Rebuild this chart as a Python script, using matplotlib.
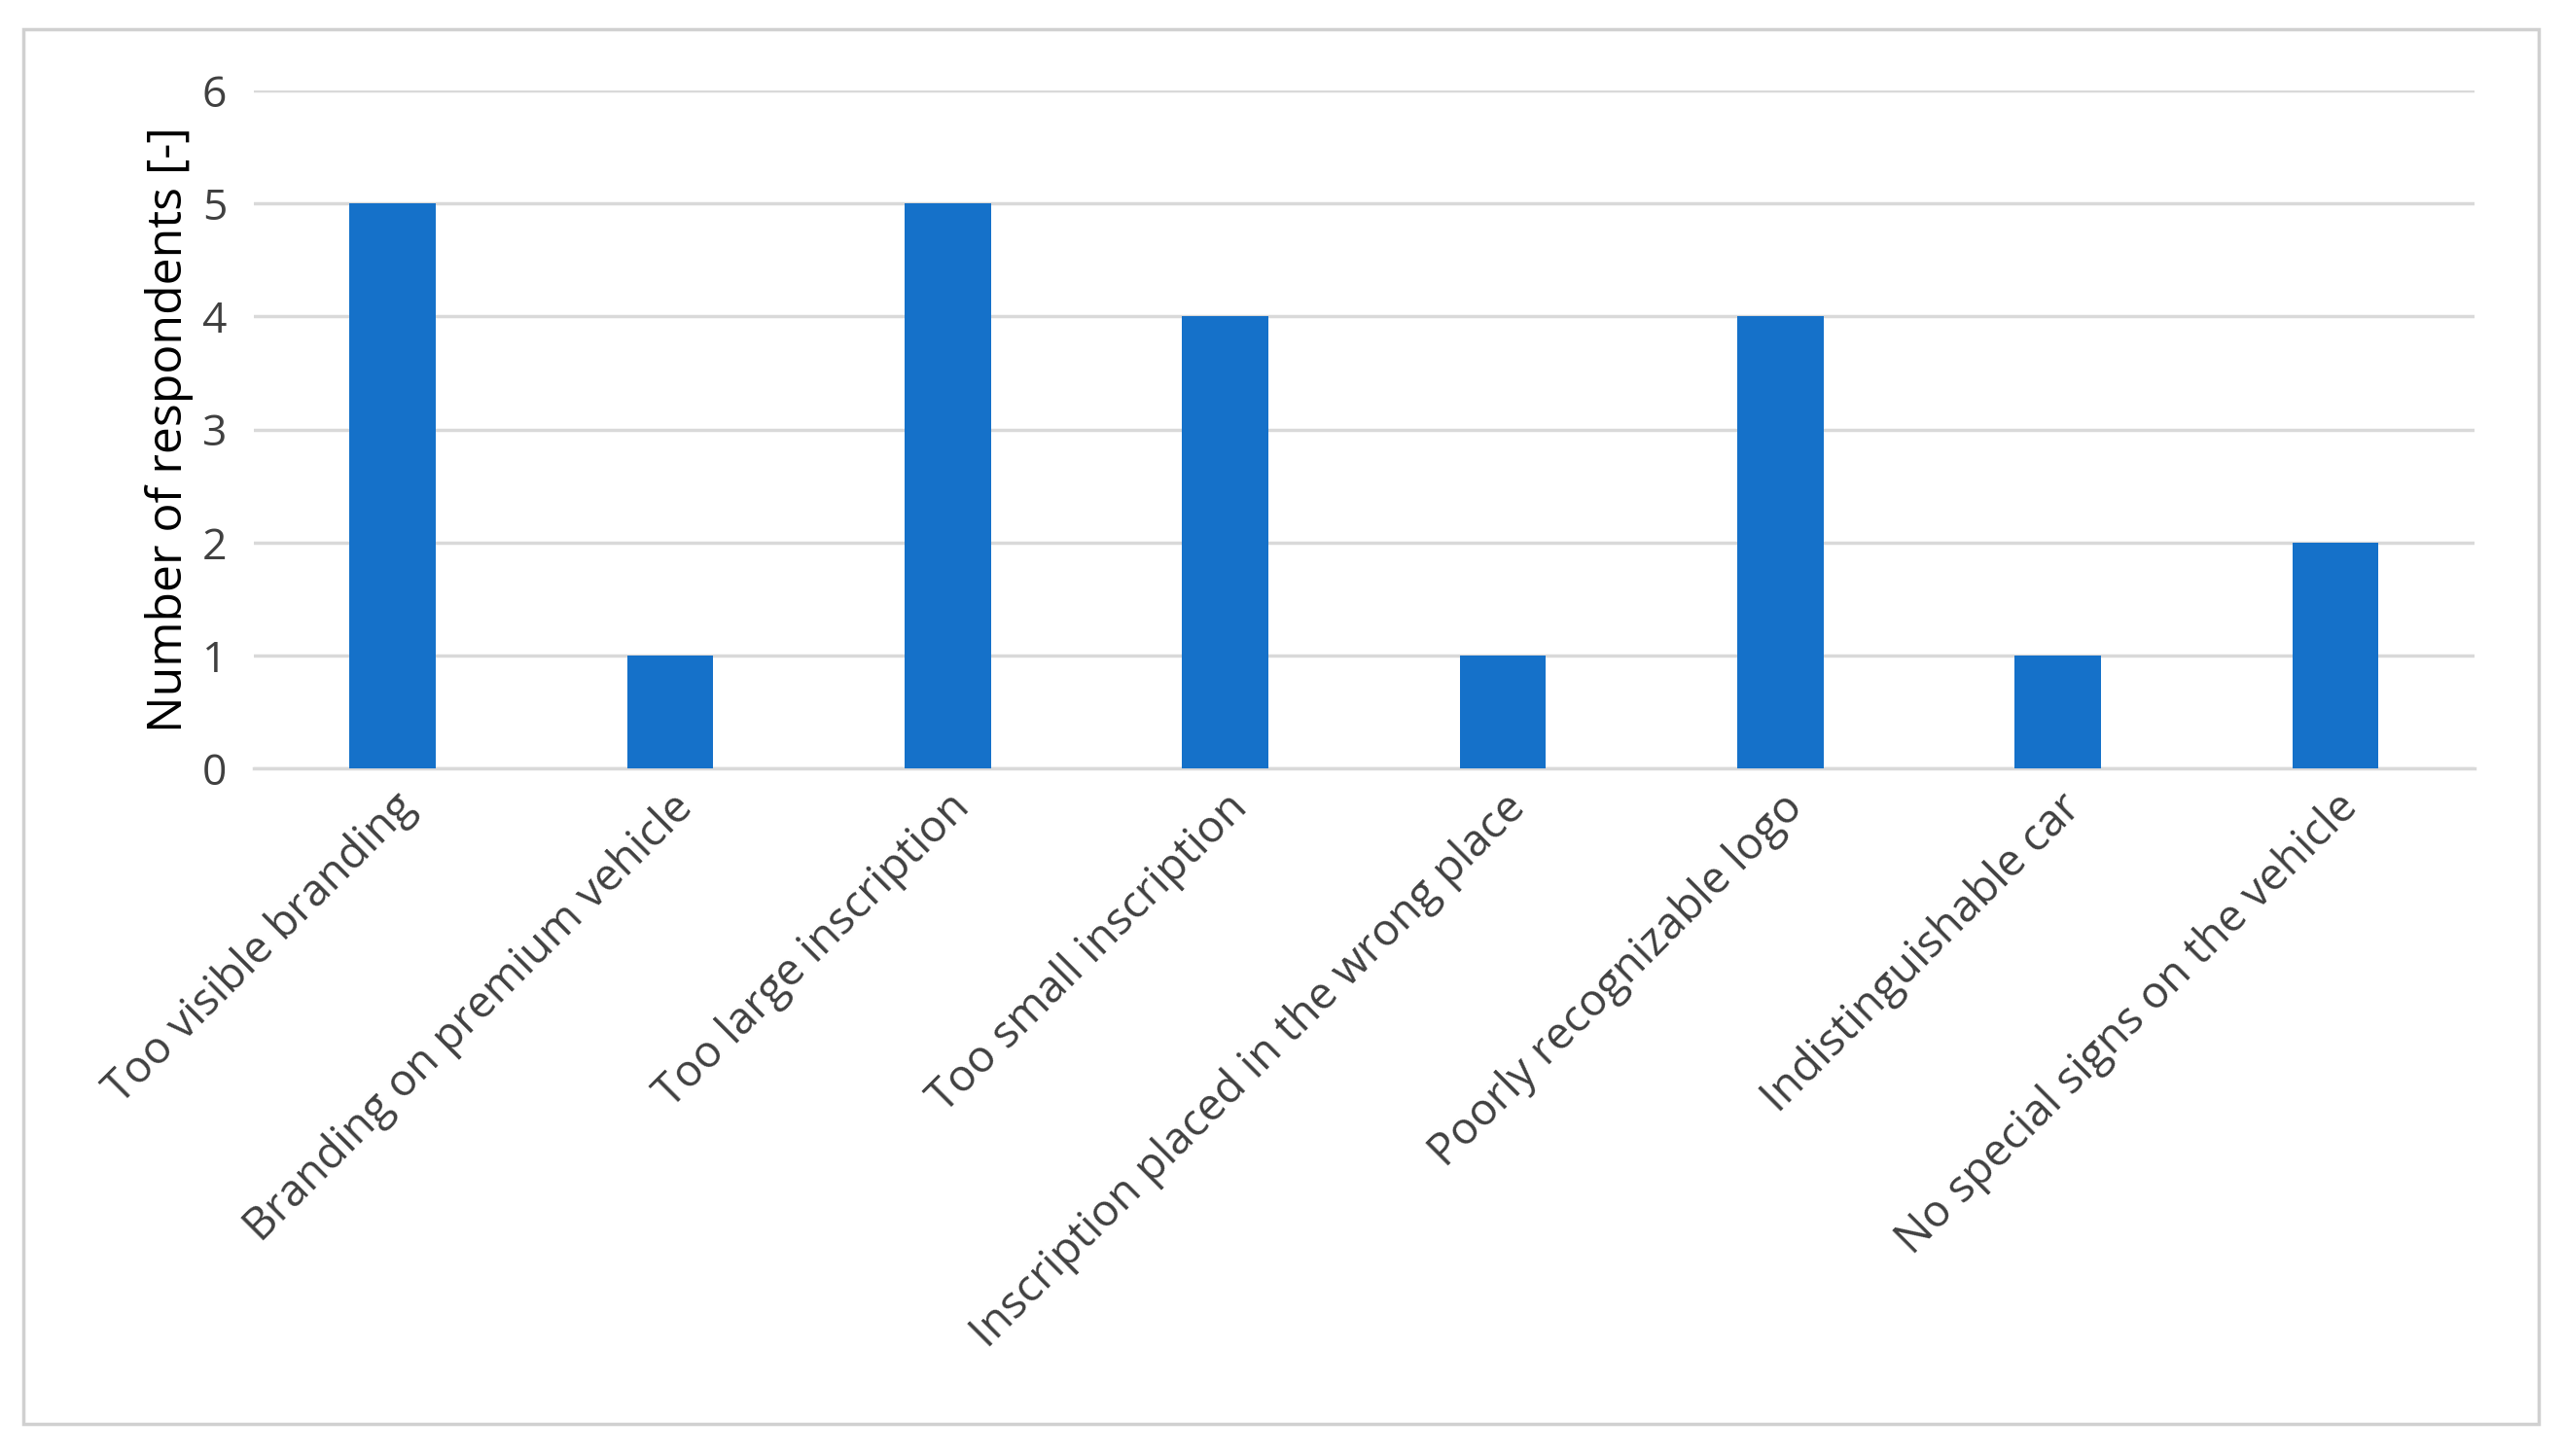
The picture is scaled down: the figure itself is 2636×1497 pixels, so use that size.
import matplotlib
matplotlib.use('Agg')
import matplotlib.pyplot as plt
from matplotlib.patches import Rectangle

CATEGORIES = ['Too visible branding', 'Branding on premium vehicle', 'Too large inscription',
              'Too small inscription', 'Inscription placed in the wrong place',
              'Poorly recognizable logo', 'Indistinguishable car', 'No special signs on the vehicle']
VALUES = [5, 1, 5, 4, 1, 4, 1, 2]
YTICKS = [0, 1, 2, 3, 4, 5, 6]

plt.rcParams['font.family'] = ['Open Sans', 'DejaVu Sans']

fig = plt.figure(figsize=(26.36, 14.97), dpi=100)
fig.patches.append(Rectangle((0.009, 0.022), 0.981, 0.958, transform=fig.transFigure,
                             fill=False, edgecolor='#d0d0d0', linewidth=2.5))
ax = fig.add_axes([0.099, 0.472, 0.866, 0.466])

x = range(len(CATEGORIES))
ax.bar(x, VALUES, width=0.31, color='#1571C9', zorder=3)
ax.set_xlim(-0.5, len(CATEGORIES) - 0.5)
ax.set_ylim(0, 6)
ax.set_yticks(YTICKS)
ax.tick_params(axis='y', labelsize=32, length=0, pad=20, colors='#404040')
ax.tick_params(axis='x', length=0, pad=12)
ax.set_xticks(list(x))
ax.set_xticklabels(CATEGORIES, rotation=45, ha='right', rotation_mode='anchor',
                   fontsize=33, color='#404040')
ax.grid(axis='y', color='#d9d9d9', linewidth=2.5, zorder=0)
for s in ['top', 'right', 'left']:
    ax.spines[s].set_visible(False)
ax.spines['bottom'].set_color('#d9d9d9')
ax.spines['bottom'].set_linewidth(2.5)
ax.set_ylabel('Number of respondents [-]', fontsize=36, labelpad=6)

fig.savefig('out.png', dpi=100)
